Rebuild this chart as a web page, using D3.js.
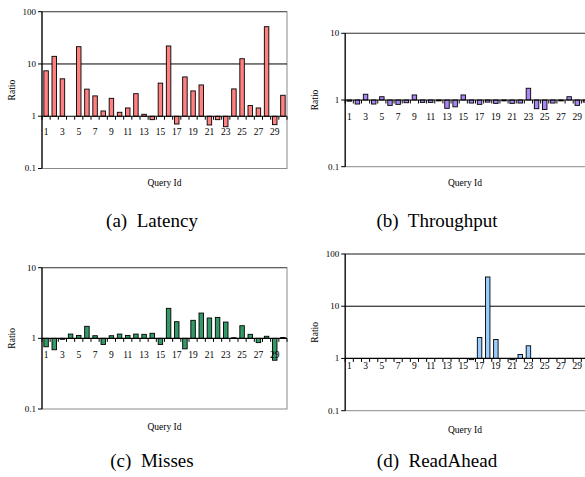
<!DOCTYPE html>
<html>
<head>
<meta charset="utf-8">
<script src="https://cdn.jsdelivr.net/npm/d3@7"></script>
<style>
  body { margin: 0; background: white; }
</style>
</head>
<body>
<div id="chart"></div>
<script>
let W = 585, H = 477

// query ids shown on every x axis
let queryIds = [1, 2, 3, 4, 5, 6, 7, 8, 9, 10, 11, 12, 13, 14, 15, 16, 17, 18, 19, 20, 21, 22, 23, 24, 25, 26, 27, 28, 29, 30]

// ratio per query
let latency = [7.4, 14.0, 5.2, 1.0, 21.4, 3.3, 2.45, 1.26, 2.2, 1.19, 1.44, 2.7, 1.09, 0.86, 4.3,
    22.1, 0.71, 5.65, 3.05, 3.97, 0.68, 0.86, 0.63, 3.33, 12.6, 1.6, 1.44, 51.7, 0.69, 2.52]
let throughput = [0.96, 0.87, 1.22, 0.87, 1.12, 0.83, 0.86, 0.91, 1.19, 0.92, 0.92, 0.97, 0.75, 0.79, 1.19,
    0.90, 0.86, 0.93, 0.89, 0.97, 0.89, 0.90, 1.50, 0.74, 0.72, 0.90, 0.97, 1.12, 0.83, 0.93]
let misses = [0.76, 0.69, 0.97, 1.15, 1.10, 1.48, 1.09, 0.82, 1.09, 1.15, 1.10, 1.15, 1.14, 1.18, 0.82,
    2.66, 1.72, 0.71, 1.80, 2.28, 1.94, 1.98, 1.70, 1.02, 1.51, 1.14, 0.87, 1.07, 0.49, 1.03]
let readAhead = [1, 1, 1, 1, 1, 1, 1, 1, 1, 1, 1, 1, 1, 1, 1,
    0.95, 2.52, 36.3, 2.31, 1, 0.95, 1.19, 1.75, 1, 1, 1, 1, 1, 1, 1]

let yTicksA = [0.1, 1, 10, 100]
let yTicksB = [0.1, 1, 10]

let svg = d3.select("#chart").append("svg")
    .attr("width", W).attr("height", H)
    .attr("font-family", "'Liberation Serif', 'Times New Roman', Times, 'DejaVu Serif', serif")

// one entry per sub-figure
let panels = [
    { data: latency, caption: "(a)  Latency", color: "#ff8080", ticks: yTicksA,
      x0: 42, x1: 287, yTop: 11.7, yBot: 168.5, labDy: 18.5, titleY: 186, capX: 152, capY: 227 },
    { data: throughput, caption: "(b)  Throughput", color: "#a987f2", ticks: yTicksB,
      x0: 345.2, x1: 589.5, yTop: 33.3, yBot: 166.7, labDy: 20, titleY: 186, capX: 437, capY: 227 },
    { data: misses, caption: "(c)  Misses", color: "#339966", ticks: yTicksB,
      x0: 42, x1: 287, yTop: 267.7, yBot: 409, labDy: 20, titleY: 430, capX: 152, capY: 467 },
    { data: readAhead, caption: "(d)  ReadAhead", color: "#99ccff", ticks: yTicksA,
      x0: 345.2, x1: 589.5, yTop: 254, yBot: 410.7, labDy: 11, titleY: 433, capX: 437, capY: 467 }
]

panels.forEach(p => {
    let g = svg.append("g")
    let x = d3.scaleBand().domain(queryIds).range([p.x0, p.x1]).paddingInner(0.45).paddingOuter(0.225)
    let y = d3.scaleLog().domain([d3.min(p.ticks), d3.max(p.ticks)]).range([p.yBot, p.yTop])
    let y1 = y(1)
    let step = x.step()

    // plot area border
    g.append("rect")
        .attr("x", p.x0).attr("y", p.yTop)
        .attr("width", p.x1 - p.x0).attr("height", p.yBot - p.yTop)
        .attr("fill", "none").attr("stroke", "#8a8a8a").attr("stroke-width", 1)

    // gridlines above the axis
    g.selectAll(".grid").data(p.ticks.filter(t => t > 1)).join("line")
        .attr("x1", p.x0).attr("x2", p.x1)
        .attr("y1", d => y(d)).attr("y2", d => y(d))
        .attr("stroke", d => d === d3.max(p.ticks) ? "#555" : "#000").attr("stroke-width", 1)

    // bars from 1 to value
    g.selectAll(".bar").data(p.data).join("rect")
        .attr("x", (d, i) => x(queryIds[i]))
        .attr("width", x.bandwidth())
        .attr("y", d => Math.min(y(d), y1))
        .attr("height", d => Math.abs(y(d) - y1))
        .attr("fill", p.color).attr("stroke", "#000").attr("stroke-width", 0.9)

    // y axis
    g.append("line").attr("x1", p.x0).attr("x2", p.x0).attr("y1", p.yTop).attr("y2", p.yBot)
        .attr("stroke", "#000").attr("stroke-width", 1.2)
    g.selectAll(".ytick").data(p.ticks).join("line")
        .attr("x1", p.x0 - 4).attr("x2", p.x0)
        .attr("y1", d => y(d)).attr("y2", d => y(d))
        .attr("stroke", "#000").attr("stroke-width", 1)
    g.selectAll(".ylab").data(p.ticks).join("text")
        .attr("x", p.x0 - 6).attr("y", d => y(d)).attr("dy", "0.33em")
        .attr("text-anchor", "end").attr("font-size", 9)
        .text(d => d)

    // x axis crossing at 1
    g.append("line").attr("x1", p.x0).attr("x2", p.x1).attr("y1", y1).attr("y2", y1)
        .attr("stroke", "#000").attr("stroke-width", 1.2)
    g.selectAll(".xtick").data(d3.range(queryIds.length + 1)).join("line")
        .attr("x1", i => p.x0 + i * step).attr("x2", i => p.x0 + i * step)
        .attr("y1", y1).attr("y2", y1 + 3.5)
        .attr("stroke", "#000").attr("stroke-width", 1)
    g.selectAll(".xlab").data(queryIds.filter(q => q % 2 === 1)).join("text")
        .attr("x", d => x(d) + x.bandwidth() / 2).attr("y", y1 + p.labDy)
        .attr("text-anchor", "middle").attr("font-size", 9.5)
        .text(d => d)

    // axis titles
    g.append("text")
        .attr("transform", `translate(${p.x0 - 27},${(p.yTop + p.yBot) / 2}) rotate(-90)`)
        .attr("text-anchor", "middle").attr("font-size", 9.5)
        .text("Ratio")
    g.append("text")
        .attr("x", p.x1 > 585 ? 465 : (p.x0 + p.x1) / 2).attr("y", p.titleY)
        .attr("text-anchor", "middle").attr("font-size", 9.5)
        .text("Query Id")

    // caption
    svg.append("text")
        .attr("x", p.capX).attr("y", p.capY)
        .attr("text-anchor", "middle").attr("font-size", 19)
        .style("white-space", "pre")
        .text(p.caption)
})
</script>
</body>
</html>
